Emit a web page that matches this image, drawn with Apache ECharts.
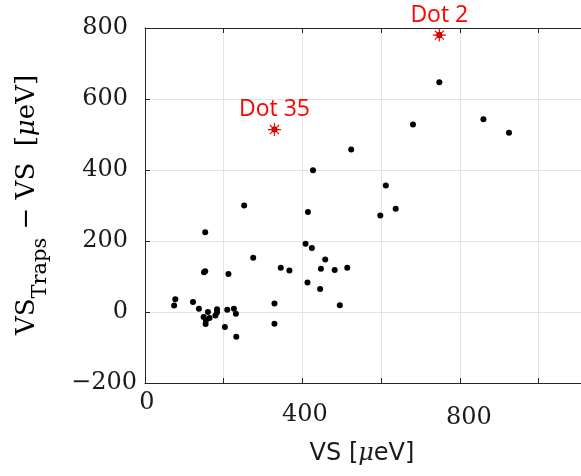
<!DOCTYPE html>
<html>
<head>
<meta charset="utf-8">
<script src="https://cdn.jsdelivr.net/npm/echarts@6/dist/echarts.min.js"></script>
<style>
html,body{margin:0;padding:0;background:#fff;}
#chart{width:581px;height:476px;}
</style>
</head>
<body>
<div id="chart"></div>
<script>
// ---- data ----
var dotsX = [748, 681, 860, 925, 524, 427, 612, 637, 598, 252, 414, 153, 408, 424, 275, 458, 345, 367, 447, 482, 514, 150, 153, 212, 413, 445, 495, 329, 329, 77, 74, 122, 137, 160, 149, 155, 154, 164, 183, 183, 179, 209, 226, 231, 203, 232, 748, 329];
var dotsY = [647, 528, 543, 505, 458, 399, 356, 291, 272, 300, 282, 225, 192, 180, 153, 148, 125, 117, 122, 118, 125, 112, 115, 107, 83, 65, 19, 24, -33, 36, 18, 28, 9, 0, -14, -23, -34, -17, 8, -1, -10, 6, 9, -5, -42, -70, 780, 514];
var markedNames = ['Dot 2', 'Dot 35'];
var markedX = [748, 329];
var markedY = [780, 514];
var xTickLabels = [0, 400, 800];
var yTickLabels = [-200, 0, 200, 400, 600, 800];

var serif = 'DejaVu Serif';
var sans = 'Open Sans';
var ink = '#1a1a1a';

var chart = echarts.init(document.getElementById('chart'), null, {renderer: 'canvas'});

var dotData = dotsX.map(function (x, i) { return [x, dotsY[i]]; });
var markData = markedX.map(function (x, i) { return {name: markedNames[i], value: [x, markedY[i]]}; });

var xRich = {
  a: {fontFamily: serif, fontSize: 24, color: ink, padding: [0, 0, 0, 4]},
  b: {fontFamily: serif, fontSize: 24, color: ink, padding: [12, 0, 0, 5]},
  c: {fontFamily: serif, fontSize: 24, color: ink, padding: [15, 0, 0, 18]}
};
var xKeys = ['a', 'b', 'c'];

var option = {
  animation: false,
  backgroundColor: '#fff',
  grid: {left: 145, top: 28, width: 436, height: 355, containLabel: false},
  xAxis: [{
    type: 'value', min: 0, max: 1108, interval: 200, position: 'bottom',
    axisLine: {show: true, onZero: false, lineStyle: {color: '#262626', width: 1}},
    axisTick: {show: true, inside: true, length: 5, lineStyle: {color: '#262626'}},
    splitLine: {show: true, lineStyle: {color: '#e3e3e3', width: 1}},
    axisLabel: {
      margin: 8,
      showMaxLabel: false,
      formatter: function (v) {
        var k = xTickLabels.indexOf(v);
        return k < 0 ? '' : '{' + xKeys[k] + '|' + v + '}';
      },
      rich: xRich
    }
  }, {
    type: 'value', min: 0, max: 1108, interval: 200, position: 'top',
    axisLine: {show: true, onZero: false, lineStyle: {color: '#262626', width: 1}},
    axisTick: {show: true, inside: true, length: 5, lineStyle: {color: '#262626'}},
    splitLine: {show: false},
    axisLabel: {show: false}
  }],
  yAxis: [{
    type: 'value', min: -200, max: 800, interval: 200,
    axisLine: {show: true, onZero: false, lineStyle: {color: '#262626', width: 1}},
    axisTick: {show: true, inside: true, length: 5, lineStyle: {color: '#262626'}},
    splitLine: {show: true, lineStyle: {color: '#e3e3e3', width: 1}},
    axisLabel: {
      margin: 8,
      formatter: function (v) {
        if (yTickLabels.indexOf(v) < 0) return '';
        return v < 0 ? '{m|\u2212' + Math.abs(v) + '}' : '{n|' + v + '}';
      },
      rich: {
        m: {fontFamily: serif, fontSize: 24, color: ink},
        n: {fontFamily: serif, fontSize: 24, color: ink, padding: [0, 9, 0, 0]}
      }
    }
  }],
  graphic: [{
    type: 'text',
    x: 29, y: 205, rotation: Math.PI / 2,
    style: {
      text: '{m|VS}{s|Traps}{m| \u2212 VS  [}{i|\u03bc}{m|eV]}',
      align: 'center', verticalAlign: 'middle',
      rich: {
        m: {fontFamily: serif, fontSize: 26, color: ink, lineHeight: 29, verticalAlign: 'top'},
        s: {fontFamily: serif, fontSize: 21, color: ink, lineHeight: 24, padding: [16, 0, 0, 0], verticalAlign: 'top'},
        i: {fontFamily: serif, fontStyle: 'italic', fontSize: 26, color: ink, lineHeight: 29, verticalAlign: 'top'}
      }
    }
  }, {
    type: 'text',
    x: 362, y: 454,
    style: {
      text: 'VS [{i|\u03bc}eV]',
      fontFamily: 'DejaVu Sans', fontSize: 24, fill: ink,
      align: 'center', verticalAlign: 'middle',
      rich: {i: {fontFamily: serif, fontStyle: 'italic', fontSize: 24, color: ink}}
    }
  }],
  series: [{
    type: 'scatter', xAxisIndex: 0, yAxisIndex: 0,
    data: dotData, symbol: 'circle', symbolSize: 6,
    itemStyle: {color: '#000', opacity: 1}, z: 2, silent: true
  }, {
    type: 'scatter', xAxisIndex: 0, yAxisIndex: 0,
    data: markData,
    symbol: 'path://M10,0L10,20M0,10L20,10M3,3L17,17M3,17L17,3',
    symbolSize: 13,
    itemStyle: {color: 'rgba(0,0,0,0)', borderColor: '#ff0000', borderWidth: 1.2, opacity: 1},
    label: {
      show: true, position: 'top', distance: 1, opacity: 1,
      formatter: '{b}', fontFamily: sans, fontSize: 23, color: '#ff0000'
    },
    z: 3, silent: true
  }]
};
chart.setOption(option);
</script>
</body>
</html>
